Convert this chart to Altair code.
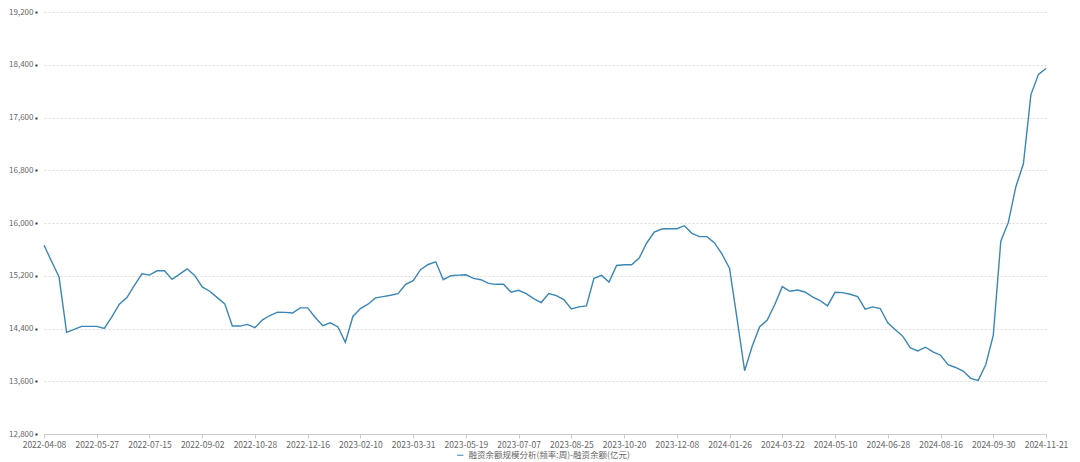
import altair as alt
import pandas as pd

dates = [
    "2022-04-08", "2022-04-15", "2022-04-22", "2022-04-29", "2022-05-06", "2022-05-13", "2022-05-20",
    "2022-05-27", "2022-06-02", "2022-06-10", "2022-06-17", "2022-06-24", "2022-07-01", "2022-07-08",
    "2022-07-15", "2022-07-22", "2022-07-29", "2022-08-05", "2022-08-12", "2022-08-19", "2022-08-26",
    "2022-09-02", "2022-09-09", "2022-09-16", "2022-09-23", "2022-09-30", "2022-10-14", "2022-10-21",
    "2022-10-28", "2022-11-04", "2022-11-11", "2022-11-18", "2022-11-25", "2022-12-02", "2022-12-09",
    "2022-12-16", "2022-12-23", "2022-12-30", "2023-01-06", "2023-01-13", "2023-01-20", "2023-02-03",
    "2023-02-10", "2023-02-17", "2023-02-24", "2023-03-03", "2023-03-10", "2023-03-17", "2023-03-24",
    "2023-03-31", "2023-04-07", "2023-04-14", "2023-04-21", "2023-04-28", "2023-05-05", "2023-05-12",
    "2023-05-19", "2023-05-26", "2023-06-02", "2023-06-09", "2023-06-16", "2023-06-21", "2023-06-30",
    "2023-07-07", "2023-07-14", "2023-07-21", "2023-07-28", "2023-08-04", "2023-08-11", "2023-08-18",
    "2023-08-25", "2023-09-01", "2023-09-08", "2023-09-15", "2023-09-22", "2023-09-28", "2023-10-13",
    "2023-10-20", "2023-10-27", "2023-11-03", "2023-11-10", "2023-11-17", "2023-11-24", "2023-12-01",
    "2023-12-08", "2023-12-15", "2023-12-22", "2023-12-29", "2024-01-05", "2024-01-12", "2024-01-19",
    "2024-01-26", "2024-02-02", "2024-02-08", "2024-02-23", "2024-03-01", "2024-03-08", "2024-03-15",
    "2024-03-22", "2024-03-29", "2024-04-03", "2024-04-12", "2024-04-19", "2024-04-26", "2024-04-30",
    "2024-05-10", "2024-05-17", "2024-05-24", "2024-05-31", "2024-06-07", "2024-06-14", "2024-06-21",
    "2024-06-28", "2024-07-05", "2024-07-12", "2024-07-19", "2024-07-26", "2024-08-02", "2024-08-09",
    "2024-08-16", "2024-08-23", "2024-08-30", "2024-09-06", "2024-09-13", "2024-09-20", "2024-09-27",
    "2024-09-30", "2024-10-11", "2024-10-18", "2024-10-25", "2024-11-01", "2024-11-08", "2024-11-15",
    "2024-11-21",
]

values = [
    15662, 15421, 15180, 14341, 14386, 14432, 14432,
    14432, 14402, 14578, 14769, 14868, 15055, 15230,
    15210, 15275, 15275, 15145, 15225, 15305, 15205,
    15030, 14965, 14868, 14774, 14437, 14437, 14462,
    14412, 14532, 14597, 14648, 14645, 14635, 14713,
    14713, 14568, 14442, 14487, 14427, 14191, 14583,
    14703, 14769, 14864, 14884, 14904, 14929, 15070,
    15125, 15296, 15371, 15411, 15140, 15200, 15210,
    15215, 15160, 15140, 15085, 15070, 15070, 14949,
    14979, 14929, 14854, 14794, 14929, 14899, 14839,
    14698, 14728, 14743, 15160, 15205, 15105, 15356,
    15366, 15366, 15467, 15697, 15863, 15908, 15913,
    15913, 15959, 15843, 15793, 15793, 15697, 15527,
    15311, 14543, 13759, 14131, 14427, 14527, 14763,
    15035, 14964, 14984, 14954, 14879, 14824, 14743,
    14949, 14944, 14919, 14884, 14693, 14728, 14703,
    14487, 14382, 14281, 14106, 14060, 14116, 14045,
    13995, 13850, 13809, 13754, 13644, 13614, 13850,
    14294, 15723, 16009, 16551, 16898, 17947, 18254,
    18344,
]

x_labels = dates[::7]
y_ticks = [12800, 13600, 14400, 15200, 16000, 16800, 17600, 18400, 19200]
series_name = "融资余额规模分析(频率:周)-融资余额(亿元)"

df = pd.DataFrame({"date": dates, "value": values, "series": [series_name] * len(dates)})

FONT = "Noto Sans CJK SC"

chart = alt.Chart(df).mark_line(strokeWidth=1.4).encode(
    x=alt.X(
        "date:O",
        sort=None,
        scale=alt.Scale(type="point", padding=0),
        axis=alt.Axis(
            values=x_labels,
            labelAngle=0,
            title=None,
            grid=False,
            domainColor="#cccccc",
            tickColor="#cccccc",
            tickSize=4,
            labelColor="#666666",
            labelFontSize=8.5,
            labelPadding=2,
            labelFont=FONT,
        ),
    ),
    y=alt.Y(
        "value:Q",
        scale=alt.Scale(domain=[12800, 19200], nice=False, zero=False),
        axis=alt.Axis(
            values=y_ticks,
            format=",.0f",
            title=None,
            domain=False,
            offset=7,
            tickSize=2,
            tickWidth=2,
            tickColor="#333333",
            labelColor="#666666",
            labelFontSize=8,
            labelPadding=2,
            labelFont=FONT,
            grid=True,
            gridDash=[2, 2],
            gridColor="#dddddd",
        ),
    ),
    color=alt.Color(
        "series:N",
        scale=alt.Scale(range=["#3a86b4"]),
        legend=alt.Legend(
            title=None,
            orient="none",
            legendX=412,
            legendY=439,
            symbolType="stroke",
            symbolSize=40,
            symbolStrokeWidth=1,
            labelFontSize=8.5,
            labelColor="#666666",
            labelFont=FONT,
            labelLimit=400,
        ),
    ),
).properties(
    width=1002,
    height=422,
    autosize=alt.AutoSizeParams(type="none"),
    padding={"left": 36, "top": 4, "right": 26, "bottom": 28},
).configure_view(stroke=None)

chart.save("out.html", embed_options={"renderer": "svg", "actions": False})
